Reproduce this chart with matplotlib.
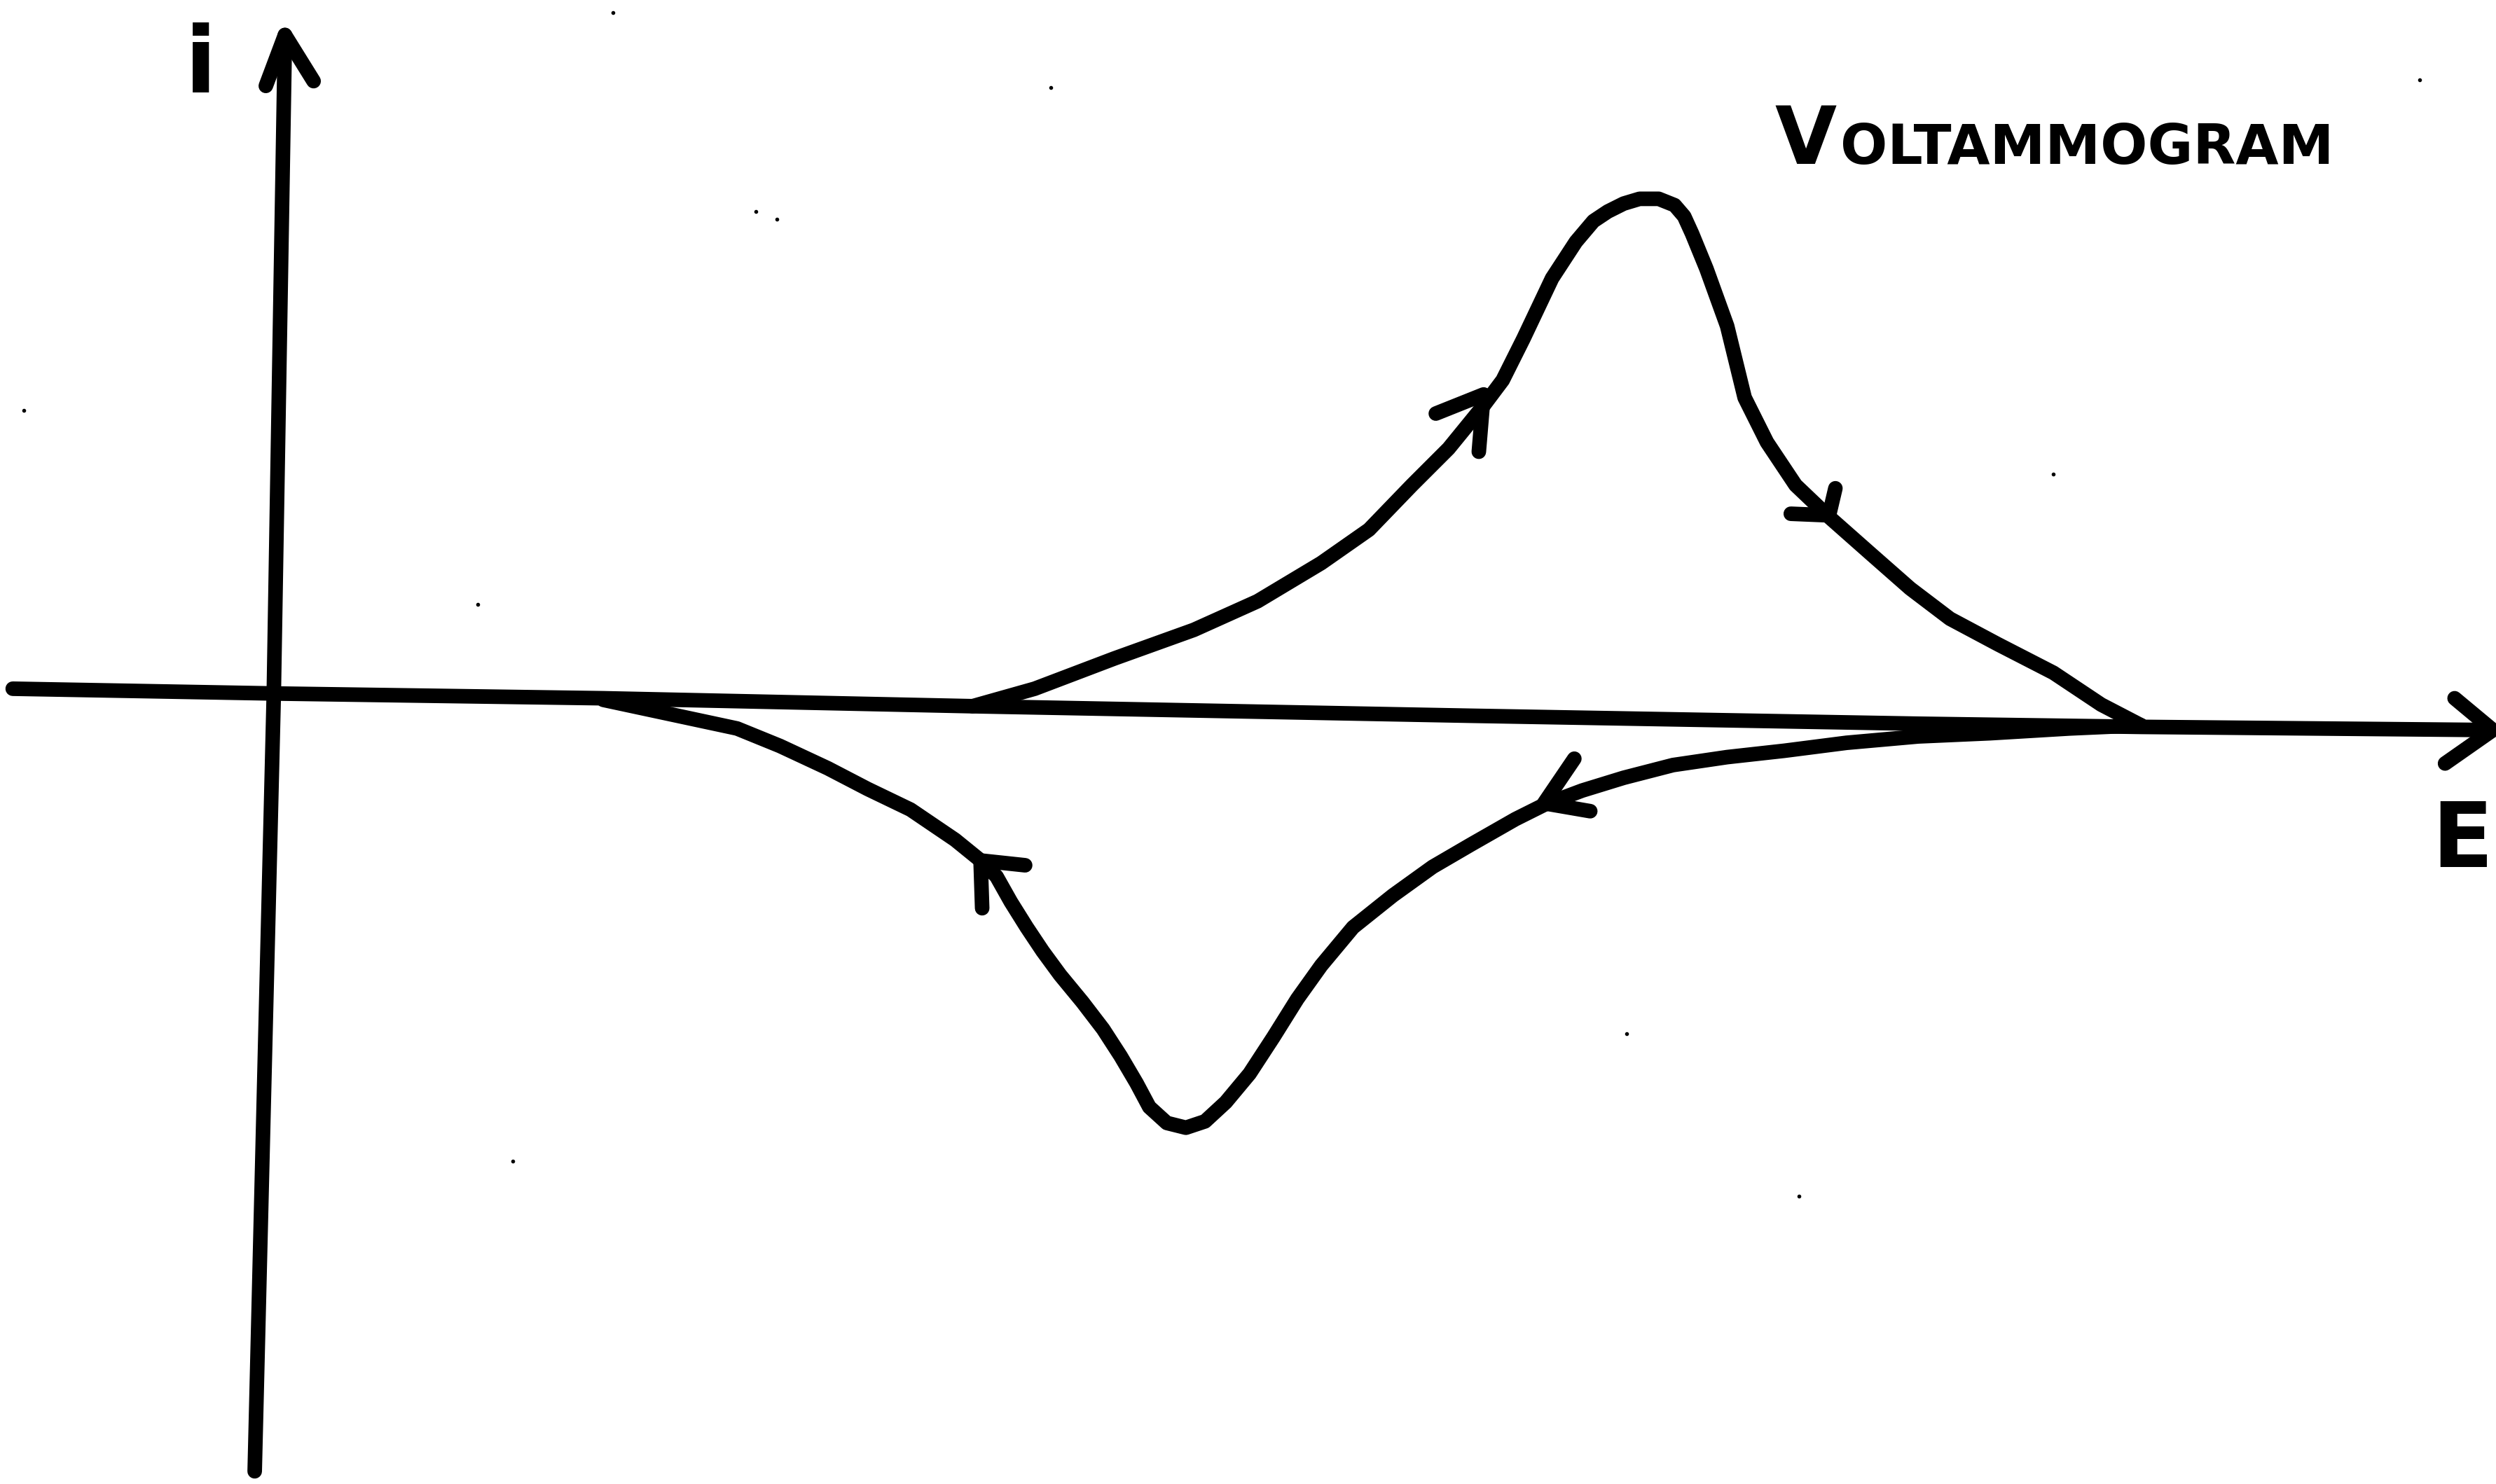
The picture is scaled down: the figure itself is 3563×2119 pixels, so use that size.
import matplotlib
matplotlib.use("Agg")
import matplotlib.pyplot as plt

# potential axis (drawn slightly tilted, like the sketch)
axis_E = [-164, 0, 207, 439, 752, 1033, 1173, 1394]
axis_i = [3, 0, -3, -8, -14, -19, -21, -23]

# current axis
iaxis_E = [-12, 0, 7]
iaxis_i = [-489, 0, 414]

# forward (anodic) sweep
fwd_E = [439, 478, 528, 578, 618, 658, 688, 715, 738, 760, 772, 785, 803, 818,
         829, 838, 848, 858, 870, 880, 886, 891, 900, 913, 924, 938, 956, 977,
         1003, 1028, 1053, 1083, 1118, 1148, 1173]
fwd_i = [-8, 3, 22, 40, 58, 82, 103, 131, 154, 181, 197, 223, 261, 284,
         297, 303, 308, 311, 311, 307, 300, 289, 267, 231, 186, 158, 131, 111,
         88, 66, 47, 31, 13, -7, -20]

# reverse (cathodic) sweep
rev_E = [1173, 1128, 1078, 1033, 988, 949, 913, 879, 848, 822, 798, 780, 752,
         728, 703, 678, 658, 643, 628, 613, 598, 585, 573, 561, 550, 542, 532,
         521, 508, 494, 483, 473, 463, 454, 444, 428, 400, 373, 348, 318, 291,
         249, 207]
rev_i = [-20, -22, -25, -27, -31, -36, -40, -45, -53, -61, -70, -79, -95,
         -109, -127, -147, -171, -192, -216, -239, -257, -269, -273, -270, -260,
         -245, -228, -211, -194, -177, -162, -147, -131, -115, -105, -92, -73,
         -60, -47, -33, -22, -13, -4]

# open arrowheads: barb, tip, barb
heads = {
    "E axis": [(1370, -3), (1394, -23), (1364, -44)],
    "i axis": [(-5, 382), (7, 414), (25, 385)],
    "rise": [(730, 176), (760, 188), (757, 152)],
    "fall": [(981, 129), (977, 112), (953, 113)],
    "return": [(817, -41), (798, -69), (827, -74)],
    "back": [(472, -108), (444, -105), (445, -135)],
}

# stray pencil specks on the sheet
speck_E = [213, 488, 303, 316, 128, -157, 1118, 1348, 850, 958, 150]
speck_i = [428, 381, 303, 298, 56, 178, 138, 386, -214, -316, -294]

ink = "black"
lw = 15

fig = plt.figure(figsize=(35.63, 21.19), dpi=100)
ax = fig.add_axes([0, 0, 1, 1])
ax.set_xlim(-172, 1396)
ax.set_ylim(-497, 436)
ax.axis("off")

style = dict(color=ink, lw=lw, solid_capstyle="round", solid_joinstyle="round")
ax.plot(axis_E, axis_i, **style)
ax.plot(iaxis_E, iaxis_i, **style)
ax.plot(fwd_E, fwd_i, **style)
ax.plot(rev_E, rev_i, **style)

for pts in heads.values():
    xs = [p[0] for p in pts]
    ys = [p[1] for p in pts]
    ax.plot(xs, ys, **style)

ax.plot(speck_E, speck_i, "o", color=ink, ms=3, lw=0)

# labels
ax.text(-46, 378, "i", fontsize=95, fontweight="bold", ha="center", va="baseline")
ax.text(1375, -109, "E", fontsize=92, fontweight="bold", ha="center", va="baseline")
ax.text(943, 333, "V", fontsize=82, fontweight="bold", ha="left", va="baseline")
ax.text(984, 333, "OLTAMMOGRAM", fontsize=57, fontweight="bold", ha="left",
        va="baseline")

fig.savefig("out.png", dpi=100, facecolor="white")
